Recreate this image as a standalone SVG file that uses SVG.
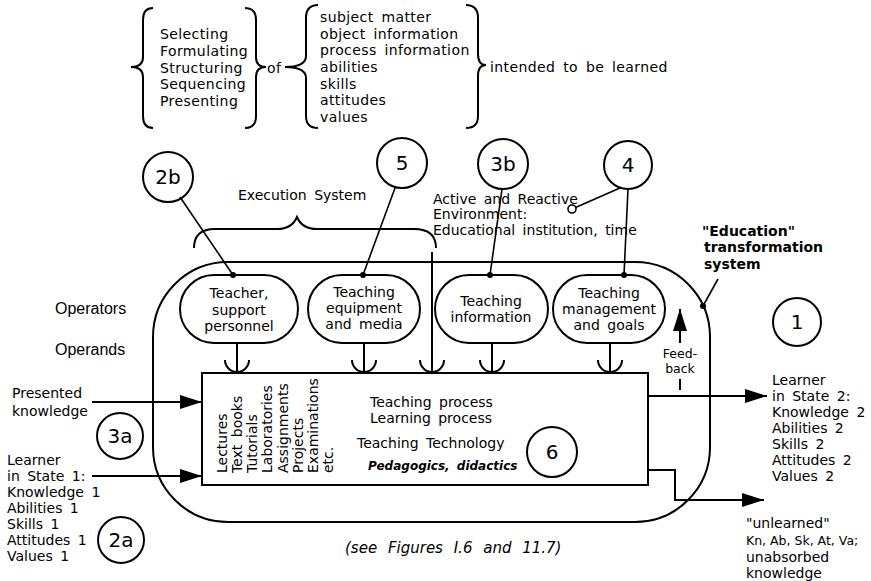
<svg xmlns="http://www.w3.org/2000/svg" width="871" height="581" viewBox="0 0 871 581">
  <style>
    .ln { stroke:#000; stroke-width:2; fill:none; }
    .thin { stroke:#000; stroke-width:1.6; fill:none; }
    .dot { fill:#000; }
    .node { stroke:#000; stroke-width:2; fill:#fff; }
    text { font-family:"DejaVu Sans", "Liberation Sans", sans-serif; font-size:14px; fill:#000; word-spacing:3px; }
    .big { font-size:14px; letter-spacing:0.4px; }
    .num { font-size:20px; text-anchor:middle; word-spacing:0; }
    .mid { text-anchor:middle; }
    .arial { font-family:"Liberation Sans", Arial, sans-serif; font-size:16px; }
    .bold { font-weight:bold; }
    .ital { font-style:italic; font-size:15px; word-spacing:6px; }
    .bi { font-weight:bold; font-style:italic; font-size:12px; }
    .small { font-size:12.5px; }
    .tight { font-size:12.5px; word-spacing:0; }
  </style>
  <defs>
    <marker id="head" markerUnits="userSpaceOnUse" markerWidth="22" markerHeight="14" viewBox="0 0 22 14" refX="22" refY="7" orient="auto">
      <path d="M0,0 L22,7 L0,14 z" fill="#000"/>
    </marker>
  </defs>
  <rect width="871" height="581" fill="#fff"/>

  <!-- heading: activities applied to the content to be learned -->
  <g id="heading">
    <path class="ln" d="M153,8 Q143,8 143,20 L143,57 Q143,67 131,67 Q143,67 143,77 L143,116 Q143,128 153,128"/>
    <text class="big" x="160" y="39">Selecting</text>
    <text class="big" x="160" y="56">Formulating</text>
    <text class="big" x="160" y="73">Structuring</text>
    <text class="big" x="160" y="89">Sequencing</text>
    <text class="big" x="160" y="106">Presenting</text>
    <path class="ln" d="M245,8 Q256,8 256,20 L256,57 Q256,67 266,67 Q256,67 256,77 L256,116 Q256,128 245,128"/>
    <text class="big" x="267" y="73">of</text>
    <path class="ln" d="M318,5 Q306,5 306,18 L306,56 Q306,67 285,67 Q306,67 306,78 L306,116 Q306,128 318,128"/>
    <text class="big" x="320" y="22">subject  matter</text>
    <text class="big" x="320" y="39">object  information</text>
    <text class="big" x="320" y="55">process  information</text>
    <text class="big" x="320" y="72">abilities</text>
    <text class="big" x="320" y="89">skills</text>
    <text class="big" x="320" y="105">attitudes</text>
    <text class="big" x="320" y="122">values</text>
    <path class="ln" d="M466,5 Q478,5 478,18 L478,54 Q478,65 486,65 Q478,65 478,76 L478,116 Q478,128 466,128"/>
    <text class="big" x="490" y="72">intended  to  be  learned</text>
  </g>

  <!-- numbered markers -->
  <g id="c2b"><circle class="ln" cx="168" cy="177" r="25"/><text class="num" x="168" y="184">2b</text></g>
  <g id="c5"><circle class="ln" cx="402" cy="163" r="25"/><text class="num" x="402" y="170">5</text></g>
  <g id="c3b"><circle class="ln" cx="503" cy="164" r="25"/><text class="num" x="503" y="171">3b</text></g>
  <g id="c4"><circle class="ln" cx="628" cy="165" r="24"/><text class="num" x="628" y="172">4</text></g>
  <g id="c1"><circle class="ln" cx="797" cy="322" r="24"/><text class="num" x="797" y="329">1</text></g>
  <g id="c3a"><circle class="ln" cx="120" cy="436" r="23"/><text class="num" x="120" y="443">3a</text></g>
  <g id="c2a"><circle class="ln" cx="121" cy="540" r="23"/><text class="num" x="121" y="547">2a</text></g>
  <g id="c6"><circle class="ln" cx="552" cy="452" r="25"/><text class="num" x="552" y="459">6</text></g>

  <!-- execution system brace -->
  <g id="execution">
    <text x="238" y="200">Execution  System</text>
    <path class="ln" d="M194,248 Q194,229 215,229 L277,229 Q292,229 297,217 Q302,229 317,229 L414,229 Q436,229 436,248"/>
  </g>

  <!-- environment label -->
  <g id="environment">
    <text x="433" y="204">Active  and  Reactive</text>
    <text x="433" y="219">Environment:</text>
    <text x="433" y="235">Educational  institution,  time</text>
    <circle class="thin" cx="572" cy="209" r="4" fill="#fff"/>
  </g>

  <!-- transformation system label -->
  <g id="ts-label">
    <text class="bold" x="702" y="236">"Education"</text>
    <text class="bold" x="704" y="252">transformation</text>
    <text class="bold" x="704" y="269">system</text>
  </g>

  <!-- transformation system boundary -->
  <g id="system">
    <rect class="ln" x="153" y="262" width="557" height="260" rx="75" ry="75"/>
  </g>

  <!-- operators -->
  <g id="teacher">
    <rect class="node" x="180" y="275" width="118" height="68" rx="34" ry="34"/>
    <text class="mid" x="239" y="298">Teacher,</text>
    <text class="mid" x="239" y="315">support</text>
    <text class="mid" x="239" y="331">personnel</text>
  </g>
  <g id="equipment">
    <rect class="node" x="308" y="275" width="112" height="68" rx="34" ry="34"/>
    <text class="mid" x="364" y="297">Teaching</text>
    <text class="mid" x="364" y="313">equipment</text>
    <text class="mid" x="364" y="329">and  media</text>
  </g>
  <g id="information">
    <rect class="node" x="435" y="275" width="113" height="68" rx="34" ry="34"/>
    <text class="mid" x="491" y="306">Teaching</text>
    <text class="mid" x="491" y="322">information</text>
  </g>
  <g id="management">
    <rect class="node" x="553" y="275" width="112" height="68" rx="34" ry="34"/>
    <text class="mid" x="609" y="298">Teaching</text>
    <text class="mid" x="609" y="314">management</text>
    <text class="mid" x="609" y="330">and  goals</text>
  </g>

  <!-- process box -->
  <g id="process">
    <rect class="ln" x="202" y="373" width="446" height="112" fill="#fff"/>
    <g font-size="13.5">
      <text x="227" y="473" transform="rotate(-90 227 473)">Lectures</text>
      <text x="242" y="473" transform="rotate(-90 242 473)">Text  books</text>
      <text x="257" y="473" transform="rotate(-90 257 473)">Tutorials</text>
      <text x="272" y="473" transform="rotate(-90 272 473)">Laboratories</text>
      <text x="288" y="473" transform="rotate(-90 288 473)">Assignments</text>
      <text x="303" y="473" transform="rotate(-90 303 473)">Projects</text>
      <text x="318" y="473" transform="rotate(-90 318 473)">Examinations</text>
      <text x="333" y="473" transform="rotate(-90 333 473)">etc.</text>
    </g>
    <text x="370" y="407">Teaching  process</text>
    <text x="370" y="423">Learning  process</text>
    <text x="357" y="448">Teaching  Technology</text>
    <text class="bi" x="368" y="470">Pedagogics,  didactics</text>
  </g>

  <!-- side labels -->
  <g id="side-labels">
    <text class="arial" x="55" y="314">Operators</text>
    <text class="arial" x="55" y="355">Operands</text>
    <text x="12" y="398">Presented</text>
    <text x="12" y="416">knowledge</text>
    <text x="7" y="465">Learner</text>
    <text x="7" y="481">in  State  1:</text>
    <text x="7" y="497">Knowledge  1</text>
    <text x="7" y="513">Abilities  1</text>
    <text x="7" y="529">Skills  1</text>
    <text x="7" y="545">Attitudes  1</text>
    <text x="7" y="561">Values  1</text>
    <text x="772" y="385">Learner</text>
    <text x="772" y="401">in  State  2:</text>
    <text x="772" y="417">Knowledge  2</text>
    <text x="772" y="433">Abilities  2</text>
    <text x="772" y="449">Skills  2</text>
    <text x="772" y="465">Attitudes  2</text>
    <text x="772" y="481">Values  2</text>
    <text x="746" y="528">"unlearned"</text>
    <text class="tight" x="746" y="545">Kn, Ab, Sk, At, Va;</text>
    <text x="746" y="562">unabsorbed</text>
    <text x="746" y="578">knowledge</text>
    <text class="ital" x="345" y="553">(see  Figures  I.6  and  11.7)</text>
    <text class="mid small" x="680" y="358">Feed-</text>
    <text class="mid small" x="680" y="373">back</text>
  </g>

  <!-- connectors -->
  <g id="connectors">
    <!-- marker leaders -->
    <line class="thin" x1="180" y1="197" x2="233" y2="275"/>
    <line class="thin" x1="395" y1="188" x2="363" y2="275"/>
    <line class="thin" x1="502" y1="189" x2="490" y2="275"/>
    <line class="thin" x1="628" y1="189" x2="624" y2="275"/>
    <line class="thin" x1="620" y1="188" x2="575.5" y2="207.5"/>
    <line class="thin" x1="718" y1="279" x2="703" y2="306"/>
    <circle class="dot" cx="233" cy="275" r="3"/>
    <circle class="dot" cx="363" cy="275" r="3"/>
    <circle class="dot" cx="490" cy="275" r="3"/>
    <circle class="dot" cx="624" cy="275" r="3"/>
    <circle class="dot" cx="703" cy="306" r="3"/>
    <!-- operator inputs into the process -->
    <path class="ln" d="M237,343 V373 M225,360 A12,12 0 0 0 249,360"/>
    <path class="ln" d="M364,343 V373 M352,360 A12,12 0 0 0 376,360"/>
    <path class="ln" d="M432,252 V373 M420,360 A12,12 0 0 0 444,360"/>
    <path class="ln" d="M492,343 V373 M480,360 A12,12 0 0 0 504,360"/>
    <path class="ln" d="M610,343 V373 M598,360 A12,12 0 0 0 622,360"/>
    <!-- operand flows -->
    <line class="ln" x1="92" y1="402" x2="202" y2="402" marker-end="url(#head)"/>
    <line class="ln" x1="92" y1="476" x2="202" y2="476" marker-end="url(#head)"/>
    <line class="ln" x1="648" y1="396" x2="767" y2="396" marker-end="url(#head)"/>
    <polyline class="ln" points="648,470 675,470 675,500 764,500" marker-end="url(#head)"/>
    <!-- feedback -->
    <line class="ln" x1="680" y1="343" x2="680" y2="309" marker-end="url(#head)"/>
    <line class="ln" x1="680" y1="379" x2="680" y2="390"/>
  </g>
</svg>
